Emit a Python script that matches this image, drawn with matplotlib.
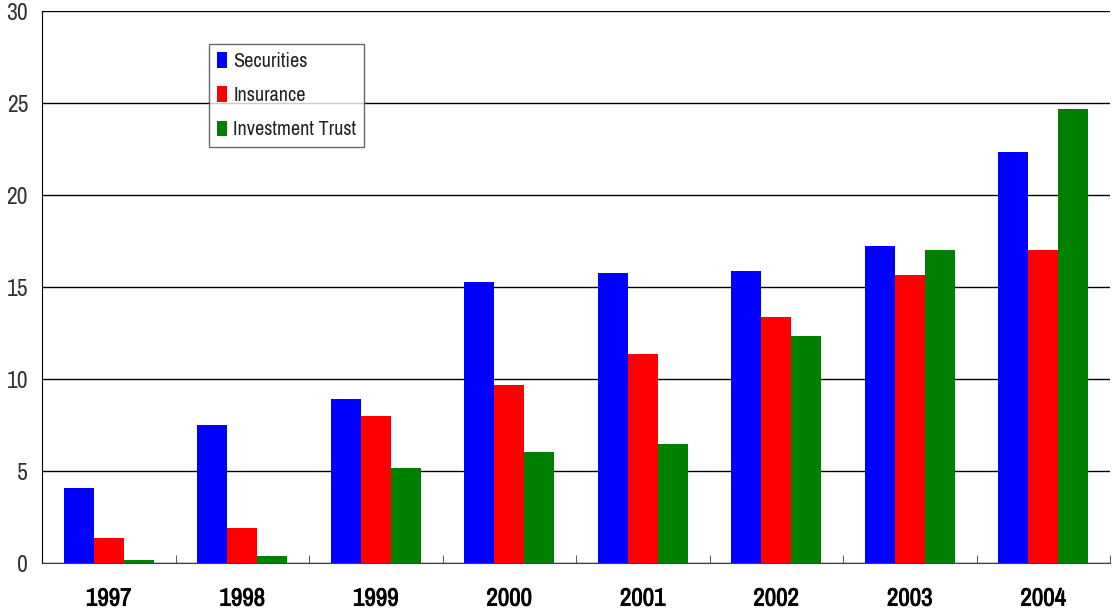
import numpy as np
import matplotlib.pyplot as plt
import matplotlib.patheffects as pe

years = ['1997', '1998', '1999', '2000', '2001', '2002', '2003', '2004']
securities = [4.08, 7.50, 8.91, 15.27, 15.76, 15.87, 17.23, 22.34]
insurance = [1.36, 1.90, 7.99, 9.67, 11.36, 13.37, 15.65, 17.01]
investment = [0.16, 0.38, 5.16, 6.03, 6.47, 12.34, 17.01, 24.67]

plt.rcParams['font.family'] = ['Liberation Sans Narrow', 'Archivo Narrow', 'DejaVu Sans']

fig = plt.figure(figsize=(11.12, 6.12), dpi=100)
ax = fig.add_axes([42 / 1112, 1 - 563 / 612, (1110 - 42) / 1112, (563 - 11) / 612])

x = np.arange(len(years))
w = 0.225
ax.bar(x - w, securities, w, color='#0000ff', label='Securities', zorder=3)
ax.bar(x, insurance, w, color='#ff0000', label='Insurance', zorder=3)
ax.bar(x + w, investment, w, color='#008000', label='Investment Trust', zorder=3)

ax.set_xlim(-0.5, len(years) - 0.5)
ax.set_ylim(0, 30)
ax.set_yticks(range(0, 31, 5))
ax.yaxis.grid(True, color='black', linewidth=1)
ax.set_axisbelow(True)

# year labels, with small inward ticks between the groups
ax.set_xticks(x)
ax.set_xticklabels(years, fontsize=18)
for lab in ax.get_xticklabels():
    lab.set_path_effects([pe.withStroke(linewidth=0.6, foreground='black')])
ax.tick_params(axis='x', length=0, pad=17)
ax.set_xticks(np.arange(0.5, len(years), 1), minor=True)
ax.tick_params(axis='x', which='minor', direction='in', length=6, color='#404040')
ax.tick_params(axis='y', length=0, labelsize=17, pad=10, colors='#333333')

for s in ['top', 'right']:
    ax.spines[s].set_visible(False)
ax.spines['bottom'].set_color('#404040')
ax.spines['left'].set_color('black')

leg = ax.legend(loc='upper left', bbox_to_anchor=((209 - 42) / 1068, (563 - 44) / 552),
                fontsize=14.5, frameon=True, fancybox=False, borderaxespad=0,
                handlelength=0.5, handleheight=0.8, handletextpad=0.3,
                labelspacing=0.75, borderpad=0.4)
leg.get_frame().set_edgecolor('#404040')
leg.get_frame().set_linewidth(1)
for t in leg.get_texts():
    t.set_color('#222222')

fig.savefig('out.png', dpi=100)
